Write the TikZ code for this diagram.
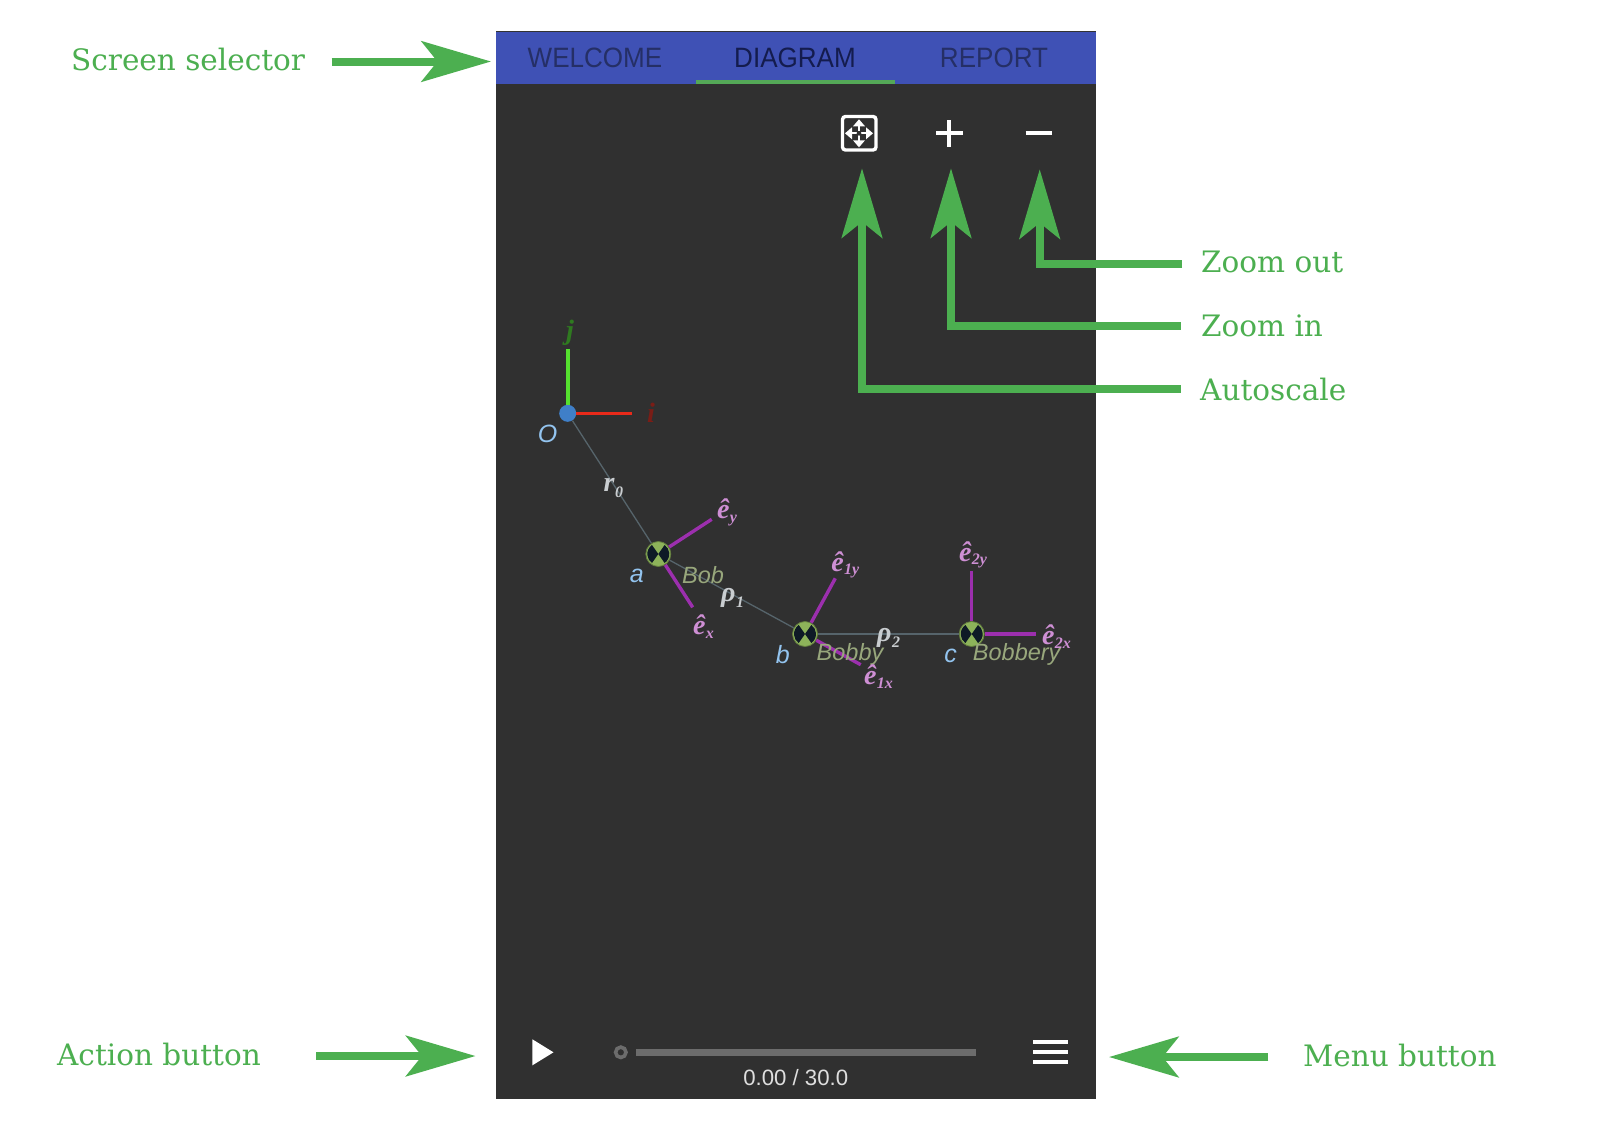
\documentclass[tikz,border=0pt]{standalone}
\usepackage{fontspec}
\usetikzlibrary{arrows.meta}
\newfontfamily\annotfont{DejaVu Serif}
\newfontfamily\tabfont[FakeStretch=0.93]{Liberation Sans}
\newfontfamily\uifont{Liberation Sans}
\newfontfamily\mathfont{Liberation Serif}
\newcommand{\esb}[1]{\kern0.5pt\raisebox{-3.5pt}{\fontsize{16}{19}\selectfont #1}}
\newcommand{\msb}[1]{\kern0.5pt\raisebox{-6pt}{\fontsize{16}{19}\selectfont #1}}
\definecolor{annot}{HTML}{4CAF50}
\definecolor{phonebg}{HTML}{303030}
\definecolor{header}{HTML}{3F51B5}
\definecolor{tabtext}{HTML}{252F66}
\definecolor{tabactive}{HTML}{141C4E}
\definecolor{labblue}{HTML}{93C4EF}
\definecolor{bobtext}{HTML}{98A77C}
\definecolor{pinktext}{HTML}{CE8FD4}
\definecolor{armpurple}{HTML}{9C2FAE}
\definecolor{linkgray}{HTML}{56646B}
\definecolor{mathgray}{HTML}{C9CDD0}
\definecolor{bobgreen}{HTML}{8DB35A}
\definecolor{bobdark}{HTML}{0E1A26}
\definecolor{originblue}{HTML}{3F7FC8}
\definecolor{jgreen}{HTML}{55E02F}
\definecolor{ired}{HTML}{E82A1A}
\definecolor{jtext}{HTML}{2F7A20}
\definecolor{itext}{HTML}{7A1D16}
\tikzset{
  annotlabel/.style={text=annot,anchor=west,inner sep=0pt,font=\annotfont\fontsize{29.5}{34}\selectfont},
  garrow/.style={draw=annot,line width=8pt,-{Stealth[length=69.5pt,width=40.5pt,inset=16pt,fill=annot]},line join=miter},
  tablabel/.style={text=tabtext,inner sep=0pt,font=\tabfont\fontsize{28}{33}\selectfont},
  namelabel/.style={text=labblue,inner sep=0pt,font=\uifont\itshape\fontsize{25}{29}\selectfont},
  boblabel/.style={text=bobtext,inner sep=0pt,font=\uifont\itshape\fontsize{23.5}{27}\selectfont},
  evec/.style={text=pinktext,anchor=base west,inner sep=0pt,font=\mathfont\bfseries\itshape\fontsize{28}{32}\selectfont},
  mvec/.style={text=mathgray,anchor=base west,inner sep=0pt,font=\mathfont\bfseries\itshape\fontsize{28}{32}\selectfont},
  axislabel/.style={inner sep=0pt,font=\mathfont\itshape\bfseries\fontsize{28}{32}\selectfont},
  arm/.style={draw=armpurple,line width=3.4pt},
  link/.style={draw=linkgray,line width=1.3pt},
  bobnode/.style={circle,minimum size=25pt,inner sep=0pt,fill=bobgreen,draw=bobgreen!70!black,line width=0.8pt,
    path picture={
      \fill[bobdark] (path picture bounding box.center) -- ++(125:11pt) arc (125:235:11pt) -- cycle;
      \fill[bobdark] (path picture bounding box.center) -- ++(-55:11pt) arc (-55:55:11pt) -- cycle;
    }},
  uiline/.style={draw=white,line width=3.8pt},
}
\begin{document}
\begin{tikzpicture}[x=1pt,y=-1pt]
\useasboundingbox (0,0) rectangle (1600,1120);
\fill[white] (0,0) rectangle (1600,1120);
% phone
\fill[phonebg] (496,31) rectangle (1095.5,1098.5);
\fill[header] (496,31) rectangle (1095.5,84);
\draw[black!80,line width=1pt] (496,31) -- (1095.5,31);
\fill[annot!85!gray] (696,80) rectangle (895,84);
\node[tablabel] (welcome) at (595,57.8) {WELCOME};
\node[tablabel,text=tabactive] (diagram) at (795,57.8) {DIAGRAM};
\node[tablabel] (report) at (994,57.8) {REPORT};
% icons
\draw[white,line width=3.4pt,rounded corners=3pt] (842.5,116.5) rectangle (876,150);
\foreach \a in {0,90,180,270}{
  \begin{scope}[shift={(859,133.3)},rotate=\a]
    \fill[white] (14,0) -- (7,-6) -- (7,6) -- cycle;
    \draw[white,line width=2pt] (0,0) -- (8,0);
  \end{scope}
}
\fill[phonebg] (859,133.3) circle (2.4pt);
\draw[uiline] (936,133.3) -- (962.6,133.3);
\draw[uiline] (949.3,120) -- (949.3,146.6);
\draw[uiline] (1025.7,133.3) -- (1052.3,133.3);
% axes and nodes
\node[circle,minimum size=17pt,inner sep=0pt,fill=originblue] (O) at (567.7,413.3) {};
\node[bobnode] (a) at (658.3,554) {};
\node[bobnode] (b) at (805,634) {};
\node[bobnode] (c) at (971.7,634) {};
\coordinate (jend) at (567.7,349.3);
\coordinate (iend) at (631.7,413.3);
\coordinate (eyend) at (711.7,519.3);
\coordinate (exend) at (692.7,607.3);
\coordinate (e1yend) at (835.3,578.3);
\coordinate (e1xend) at (860.7,664.7);
\coordinate (e2yend) at (971.7,570.7);
\coordinate (e2xend) at (1035.7,634);
\draw[link] (O) -- (a);
\draw[link] (a) -- (b);
\draw[link] (b) -- (c);
\draw[draw=jgreen,line width=3.6pt] (O) -- (jend);
\draw[draw=ired,line width=3.6pt] (O) -- (iend);
\draw[arm] (a) -- (eyend);
\draw[arm] (a) -- (exend);
\draw[arm] (b) -- (e1yend);
\draw[arm] (b) -- (e1xend);
\draw[arm] (c) -- (e2yend);
\draw[arm] (c) -- (e2xend);
% labels
\node[axislabel,text=jtext] (jlab) at (570,333) {j};
\node[axislabel,text=itext] (ilab) at (651,413) {i};
\node[namelabel] (Olab) at (547.7,434) {O};
\node[namelabel] (alab) at (636.7,576) {a};
\node[namelabel] (blab) at (782.7,654.3) {b};
\node[namelabel] (clab) at (950.7,656) {c};
\node[boblabel] (bob) at (703,575) {Bob};
\node[boblabel] (bobby) at (850,654.3) {Bobby};
\node[boblabel] (bobbery) at (1016.7,654.3) {Bobbery};
\node[mvec] (r0) at (603.5,491.5) {r\msb{0}};
\node[mvec] (rho1) at (721,601) {ρ\msb{1}};
\node[mvec] (rho2) at (877,641.5) {ρ\msb{2}};
\node[evec] (ey) at (716.8,518.5) {ê\esb{y}};
\node[evec] (ex) at (692.8,634.5) {ê\esb{x}};
\node[evec] (e1y) at (831.1,571.2) {ê\esb{1y}};
\node[evec] (e1x) at (863.8,684.5) {ê\esb{1x}};
\node[evec] (e2y) at (958.8,561.2) {ê\esb{2y}};
\node[evec] (e2x) at (1041.8,644.5) {ê\esb{2x}};
% bottom controls
\fill[white] (532.4,1039.3) -- (553.5,1052.3) -- (532.4,1065.3) -- cycle;
\draw[draw=gray!85!black,line width=3.6pt] (620.8,1052.3) circle (5.2pt);
\fill[gray!85!black] (636,1048.7) rectangle (975.6,1056);
\draw[uiline] (1033.4,1042) -- (1067.8,1042);
\draw[uiline] (1033.4,1052) -- (1067.8,1052);
\draw[uiline] (1033.4,1061.7) -- (1067.8,1061.7);
\node[text=white!87!black,inner sep=0pt,font=\uifont\fontsize{22.2}{27}\selectfont] (time) at (795.7,1077.3) {0.00 / 30.0};
% annotations
\node[annotlabel] (lscreen) at (71,59.5) {Screen selector};
\node[annotlabel] (laction) at (57,1054) {Action button};
\node[annotlabel] (lmenu) at (1303,1055.3) {Menu button};
\node[annotlabel] (lout) at (1201,261.5) {Zoom out};
\node[annotlabel] (lin) at (1201,326) {Zoom in};
\node[annotlabel] (lauto) at (1200,389) {Autoscale};
\coordinate (sstart) at (331.6,61.5);
\coordinate (stip) at (491,61.5);
\coordinate (astart) at (316,1056);
\coordinate (atip) at (475.5,1056);
\coordinate (mstart) at (1268.4,1057);
\coordinate (mtip) at (1109,1057);
\coordinate (ostart) at (1182,263.5);
\coordinate (otip) at (1039.7,169.3);
\coordinate (istart) at (1180.6,325.5);
\coordinate (itip) at (951,168.3);
\coordinate (austart) at (1180.6,388.8);
\coordinate (autip) at (862,168.3);
\draw[garrow] (sstart) -- (stip);
\draw[garrow] (astart) -- (atip);
\draw[garrow] (mstart) -- (mtip);
\draw[garrow] (ostart) -| (otip);
\draw[garrow] (istart) -| (itip);
\draw[garrow] (austart) -| (autip);
\end{tikzpicture}
\end{document}
